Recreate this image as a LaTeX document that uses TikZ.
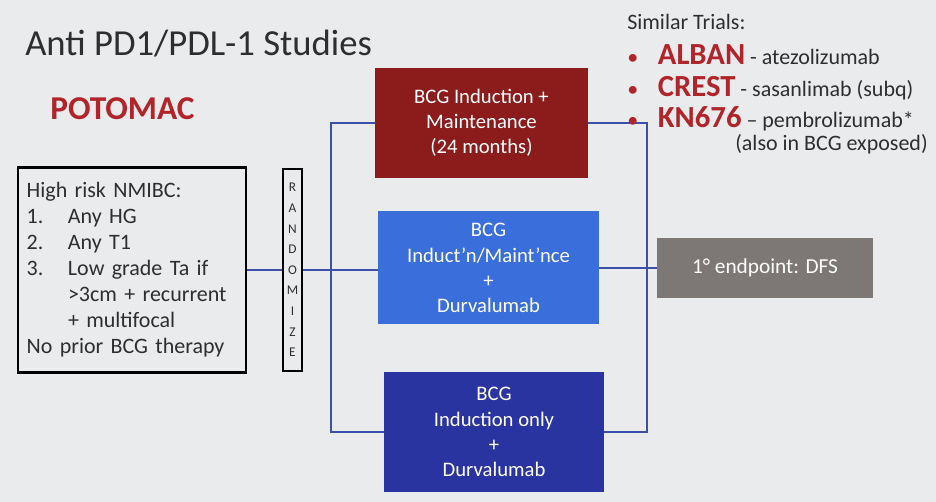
\documentclass[tikz,border=0pt]{standalone}
\usepackage{fontspec}
\setmainfont{Carlito}
\definecolor{slidebg}{HTML}{E9EBEC}
\definecolor{armred}{HTML}{8C1C1C}
\definecolor{armblue}{HTML}{3A6EDA}
\definecolor{armnavy}{HTML}{2A34A0}
\definecolor{endgray}{HTML}{7D7876}
\definecolor{linkblue}{HTML}{3C50AA}
\definecolor{trialred}{HTML}{B0242A}
\definecolor{slidetext}{HTML}{2E2E2E}
\tikzset{
  arm/.style={fill=#1, text=white, align=center, inner sep=0pt,
    font=\fontsize{15.5}{18.9}\selectfont},
  link/.style={draw=linkblue, line width=1.2pt},
  critbox/.style={draw, line width=2pt, minimum width=171pt, minimum height=153.75pt,
    text width=158pt, inner xsep=6.5pt, align=left, text=slidetext,
    font=\fontsize{16.5}{19.5}\selectfont},
  randbox/.style={draw, line width=2pt, minimum width=14.25pt, minimum height=151.5pt,
    inner sep=0pt, align=center, text=slidetext, font=\fontsize{10}{15.45}\selectfont},
  trial/.style={anchor=base west, inner sep=0pt, text=slidetext,
    font=\fontsize{16.5}{18}\selectfont}
}
\newcommand{\trialname}[1]{\textcolor{trialred}{\fontsize{23}{24}\selectfont\bfseries #1}}
\newcommand{\trialdot}{\makebox[23pt][l]{\textcolor{trialred}{\textbullet}}}
\begin{document}
\begin{tikzpicture}[x=0.75pt,y=-0.75pt]
  \fill[slidebg] (0,0) rectangle (936,502);

  \node[anchor=base west, inner sep=0pt, text=slidetext, font=\fontsize{27.5}{30}\selectfont]
    (title) at (25,56) {Anti PD1/PDL-1 Studies};
  \node[anchor=base west, inner sep=0pt, text=trialred, font=\fontsize{25}{28}\selectfont\bfseries]
    (study) at (50,120) {POTOMAC};

  \node[critbox] (crit) at (132,270) {High risk NMIBC:\\
    \makebox[31pt][l]{1.}Any HG\\
    \makebox[31pt][l]{2.}Any T1\\
    \makebox[31pt][l]{3.}Low grade Ta if\\
    \hspace*{31pt}>3cm + recurrent\\
    \hspace*{31pt}+ multifocal\\
    No prior BCG therapy};
  \node[randbox] (rand) at (292.5,270) {R\\A\\N\\D\\O\\M\\I\\Z\\E};

  \node[arm=armred, minimum width=159.75pt, minimum height=82.5pt]
    (maint) at (481.5,123) {BCG Induction +\\Maintenance\\(24 months)};
  \node[arm=armblue, minimum width=165.75pt, minimum height=84.75pt]
    (durmaint) at (488.5,268) {BCG\\Induct’n/Maint’nce\\+\\Durvalumab};
  \node[arm=armnavy, minimum width=165pt, minimum height=90pt]
    (durind) at (494,432) {BCG\\Induction only\\+\\Durvalumab};
  \node[arm=endgray, minimum width=162pt, minimum height=45pt, font=\fontsize{16}{18}\selectfont]
    (endpt) at (765,268) {1° endpoint: DFS};

  \coordinate (lb) at (331,268);
  \coordinate (rb) at (647,268);
  \draw[link] (crit.east) -- (rand.west);
  \draw[link] (rand.east) -- (rand.east -| durmaint.west);
  \draw[link] (maint.west) -| (lb) |- (durind.west);
  \draw[link] (maint.east) -| (rb) |- (durind.east);
  \draw[link] (durmaint.east) -- (endpt.west);

  \node[trial] (similar) at (627,30) {Similar Trials:};
  \node[trial] (alban) at (627,65) {\trialdot\trialname{ALBAN} - atezolizumab};
  \node[trial] (crest) at (627,97) {\trialdot\trialname{CREST} - sasanlimab (subq)};
  \node[trial] (kn) at (627,128) {\trialdot\trialname{KN676} – pembrolizumab*};
  \node[trial] (exposed) at (735,151) {(also in BCG exposed)};
\end{tikzpicture}
\end{document}
